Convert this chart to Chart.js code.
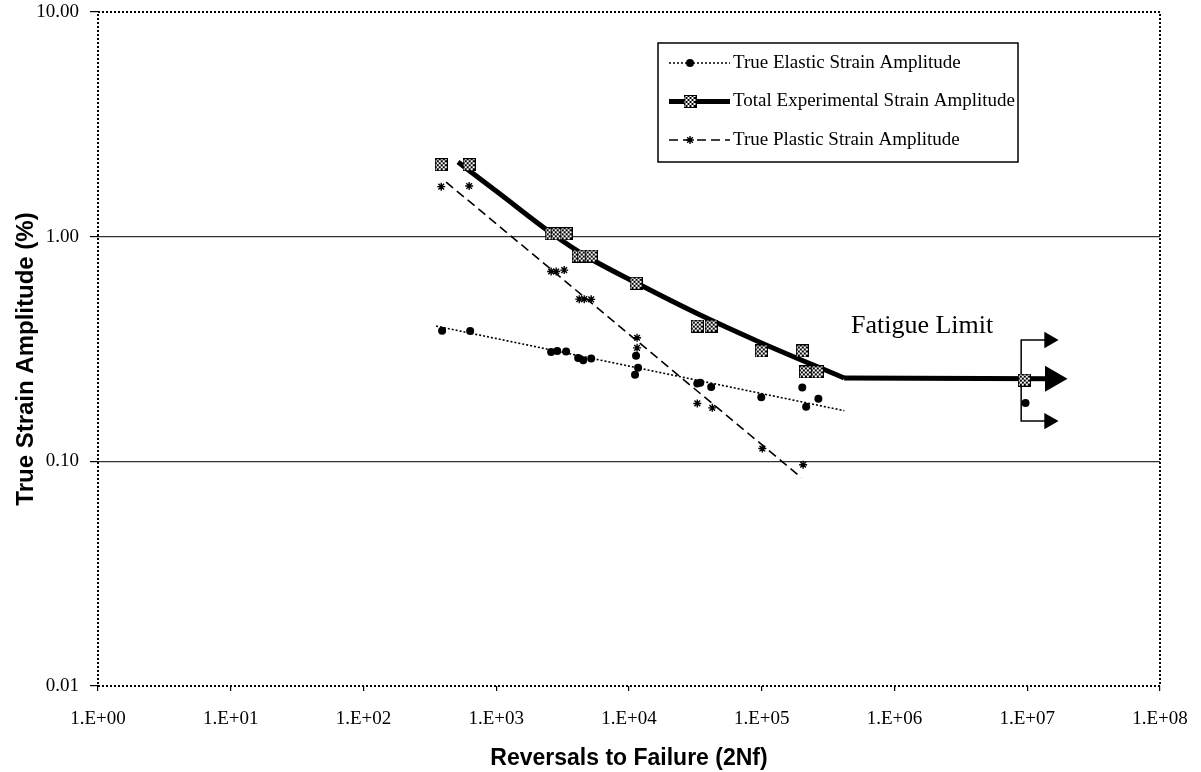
<!DOCTYPE html>
<html>
<head>
<meta charset="utf-8">
<title>Strain amplitude vs reversals to failure</title>
<script src="https://cdn.jsdelivr.net/npm/chart.js@4.4.0/dist/chart.umd.min.js"></script>
<style>
  body { margin: 0; background: #fff; }
  canvas { display: block; }
</style>
</head>
<body>
<canvas id="myChart" width="1201" height="772"></canvas>
<script>
// values: reversals (2Nf) and strain amplitude (%)
const elasticX = [391, 636, 2590, 2880, 3360, 4140, 4520, 5190, 11300, 11700, 11100, 32700, 34400, 41600, 99200, 202000, 216000, 267000, 9.7e6];
const elasticY = [0.381, 0.38, 0.307, 0.31, 0.308, 0.288, 0.282, 0.287, 0.295, 0.261, 0.243, 0.222, 0.224, 0.214, 0.193, 0.213, 0.175, 0.19, 0.182];

const totalX = [385, 625, 2590, 2880, 3360, 4140, 4520, 5190, 11300, 32700, 41600, 99200, 202000, 213000, 262000, 9.5e6];
const totalY = [2.09, 2.09, 1.03, 1.03, 1.03, 0.82, 0.82, 0.82, 0.62, 0.40, 0.40, 0.31, 0.31, 0.25, 0.25, 0.23];

const plasticX = [385, 625, 2590, 2830, 3250, 4220, 4600, 5190, 11500, 11500, 32700, 42400, 101000, 205000];
const plasticY = [1.67, 1.68, 0.70, 0.70, 0.71, 0.527, 0.527, 0.526, 0.355, 0.32, 0.181, 0.173, 0.114, 0.0966];

// fitted lines
const elasticFitX = [352, 419000];
const elasticFitY = [0.40, 0.168];
const plasticFitX = [419, 199000];
const plasticFitY = [1.75, 0.0846];
const totalFitX = [515, 1050, 2640, 4760, 11300, 33800, 95700, 417000];
const totalFitY = [2.15, 1.56, 1.03, 0.818, 0.623, 0.45, 0.34, 0.235];
const limitX = [417000, 1.55e7];
const limitY = [0.235, 0.233];

// fatigue limit bracket and arrows
const bracketX = [1.46e7, 9.0e6, 9.0e6, 1.46e7];
const bracketY = [0.347, 0.347, 0.151, 0.151];
const arrowX = [1.46e7, 1.55e7, 1.46e7];
const arrowY = [0.347, 0.233, 0.151];

const xTicks = [1, 10, 100, 1e3, 1e4, 1e5, 1e6, 1e7, 1e8];
const xTickLabels = ["1.E+00", "1.E+01", "1.E+02", "1.E+03", "1.E+04", "1.E+05", "1.E+06", "1.E+07", "1.E+08"];
const yTicks = [0.01, 0.1, 1, 10];
const yTickLabels = ["0.01", "0.10", "1.00", "10.00"];

const xTitle = "Reversals to Failure (2Nf)";
const yTitle = "True Strain Amplitude (%)";
const fatigueLabel = { text: "Fatigue Limit", x: 4.7e5, y: 0.372 };

const serif = "'Times New Roman', 'Liberation Serif', serif";
const sans = "Arial, 'Liberation Sans', sans-serif";

function pts(xs, ys) {
  return xs.map((x, i) => ({ x: x, y: ys[i] }));
}

function makeCheckMarker(size) {
  let c = document.createElement("canvas");
  c.width = size;
  c.height = size;
  let g = c.getContext("2d");
  g.fillStyle = "#fff";
  g.fillRect(0, 0, size, size);
  g.fillStyle = "#000";
  for (let i = 0; i < size; i++) {
    for (let j = 0; j < size; j++) {
      let edge = i === 0 || j === 0 || i === size - 1 || j === size - 1;
      if (edge || (Math.floor(i / 2) + Math.floor(j / 2)) % 2 === 0) g.fillRect(i, j, 1, 1);
    }
  }
  return c;
}
const checkMarker = makeCheckMarker(13);

const legendRows = [
  { text: "True Elastic Strain Amplitude", line: 0, marker: 6 },
  { text: "Total Experimental Strain Amplitude", line: 2, marker: 7 },
  { text: "True Plastic Strain Amplitude", line: 1, marker: 8 },
];

const decorations = {
  id: "decorations",
  beforeDatasetsDraw(chart) {
    const { ctx, chartArea: a } = chart;
    ctx.save();
    ctx.strokeStyle = "#000";
    ctx.lineWidth = 2;
    ctx.setLineDash([2, 2]);
    ctx.strokeRect(a.left, a.top, a.width, a.height);
    ctx.restore();
  },
  afterDraw(chart) {
    const { ctx, chartArea: a, scales } = chart;
    ctx.save();
    ctx.fillStyle = "#000";

    // axis titles
    ctx.font = "bold 23px " + sans;
    ctx.textAlign = "center";
    ctx.textBaseline = "alphabetic";
    ctx.fillText(xTitle, (a.left + a.right) / 2, a.bottom + 79);
    ctx.save();
    ctx.translate(33, (a.top + a.bottom) / 2 + 10);
    ctx.rotate(-Math.PI / 2);
    ctx.font = "bold 24px " + sans;
    ctx.fillText(yTitle, 0, 0);
    ctx.restore();

    // fatigue limit note
    ctx.font = "26px " + serif;
    ctx.textAlign = "left";
    ctx.fillText(fatigueLabel.text, scales.x.getPixelForValue(fatigueLabel.x), scales.y.getPixelForValue(fatigueLabel.y));

    // legend
    let bx = a.left + 560, by = a.top + 31, bw = 360, bh = 119;
    ctx.fillStyle = "#fff";
    ctx.fillRect(bx, by, bw, bh);
    ctx.strokeStyle = "#000";
    ctx.lineWidth = 1.5;
    ctx.strokeRect(bx, by, bw, bh);

    legendRows.forEach((row, i) => {
      let ds = chart.data.datasets[row.line];
      let mk = chart.data.datasets[row.marker];
      let y = by + 20 + i * 38.5;
      ctx.strokeStyle = "#000";
      ctx.lineWidth = ds.borderWidth;
      ctx.setLineDash(ds.borderDash || []);
      ctx.beginPath();
      ctx.moveTo(bx + 11, y);
      ctx.lineTo(bx + 72, y);
      ctx.stroke();
      ctx.setLineDash([]);
      ctx.fillStyle = "#000";
      ctx.lineWidth = mk.pointBorderWidth;
      Chart.helpers.drawPoint(ctx, {
        pointStyle: mk.pointStyle,
        radius: mk.pointRadius,
        rotation: 0,
        borderWidth: mk.pointBorderWidth,
      }, bx + 32, y);
      ctx.fillStyle = "#000";
      ctx.font = "19px " + serif;
      ctx.textAlign = "left";
      ctx.textBaseline = "middle";
      ctx.fillText(row.text, bx + 75, y);
    });
    ctx.restore();
  },
};

let ctx = document.getElementById("myChart");

let myChart = new Chart(ctx, {
  type: "scatter",
  data: {
    datasets: [
      {
        label: "True Elastic Strain Amplitude",
        data: pts(elasticFitX, elasticFitY),
        showLine: true,
        borderColor: "#000",
        borderWidth: 1.6,
        borderDash: [2, 2],
        pointRadius: 0,
        order: 6,
      },
      {
        label: "True Plastic Strain Amplitude",
        data: pts(plasticFitX, plasticFitY),
        showLine: true,
        borderColor: "#000",
        borderWidth: 1.6,
        borderDash: [9, 5],
        pointRadius: 0,
        order: 6,
      },
      {
        label: "Total Experimental Strain Amplitude",
        data: pts(totalFitX, totalFitY),
        showLine: true,
        borderColor: "#000",
        borderWidth: 5,
        cubicInterpolationMode: "monotone",
        pointRadius: 0,
        order: 5,
      },
      {
        label: "limit",
        data: pts(limitX, limitY),
        showLine: true,
        borderColor: "#000",
        borderWidth: 5,
        pointRadius: 0,
        order: 5,
      },
      {
        label: "bracket",
        data: pts(bracketX, bracketY),
        showLine: true,
        borderColor: "#000",
        borderWidth: 1.5,
        pointRadius: 0,
        order: 5,
      },
      {
        label: "arrows",
        data: pts(arrowX, arrowY),
        pointStyle: "triangle",
        pointRotation: 90,
        pointRadius: [9.5, 15, 9.5],
        backgroundColor: "#000",
        borderColor: "#000",
        pointBorderWidth: 0,
        order: 1,
      },
      {
        label: "elastic points",
        data: pts(elasticX, elasticY),
        pointStyle: "circle",
        pointRadius: 4,
        pointBorderWidth: 0,
        backgroundColor: "#000",
        borderColor: "#000",
        order: 2,
      },
      {
        label: "total points",
        data: pts(totalX, totalY),
        pointStyle: checkMarker,
        pointRadius: 6,
        pointBorderWidth: 0,
        order: 3,
      },
      {
        label: "plastic points",
        data: pts(plasticX, plasticY),
        pointStyle: "star",
        pointRadius: 4,
        pointBorderWidth: 1.4,
        backgroundColor: "#000",
        borderColor: "#000",
        order: 2,
      },
    ],
  },
  options: {
    responsive: false,
    animation: false,
    events: [],
    layout: { autoPadding: false, padding: { left: 0, top: 12, right: 41, bottom: 0 } },
    plugins: {
      legend: { display: false },
      tooltip: { enabled: false },
    },
    scales: {
      x: {
        type: "logarithmic",
        min: 1,
        max: 1e8,
        afterBuildTicks: (s) => { s.ticks = xTicks.map((v) => ({ value: v })); },
        afterFit: (s) => {
          s.height = 86;
          s.paddingLeft = 0;
          s.paddingRight = 0;
        },
        ticks: {
          callback: (v, i) => xTickLabels[i],
          autoSkip: false,
          maxRotation: 0,
          padding: 17,
          color: "#000",
          font: { family: serif, size: 19 },
        },
        grid: { color: "rgba(0,0,0,0)", tickColor: "#000", tickLength: 5, lineWidth: 1.2 },
        border: { display: false },
      },
      y: {
        type: "logarithmic",
        min: 0.01,
        max: 10,
        afterBuildTicks: (s) => { s.ticks = yTicks.map((v) => ({ value: v })); },
        afterFit: (s) => {
          s.width = 98;
          s.paddingTop = 0;
          s.paddingBottom = 0;
        },
        ticks: {
          callback: (v, i) => yTickLabels[i],
          padding: 11,
          color: "#000",
          font: { family: serif, size: 19 },
        },
        grid: {
          color: (c) => (c.index === 1 || c.index === 2 ? "#333" : "rgba(0,0,0,0)"),
          tickColor: "#000",
          tickLength: 8,
          lineWidth: 1.2,
        },
        border: { display: false },
      },
    },
  },
  plugins: [decorations],
});
</script>
</body>
</html>
